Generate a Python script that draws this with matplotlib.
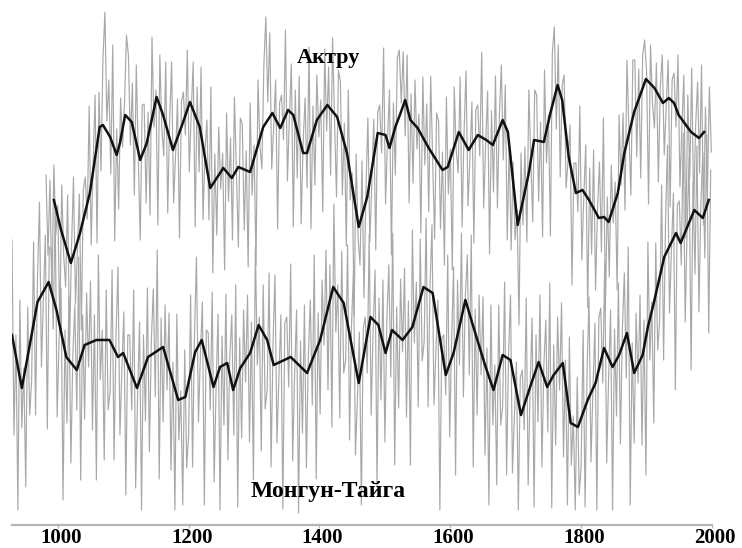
import numpy as np
import matplotlib
matplotlib.use("Agg")
import matplotlib.pyplot as plt
from matplotlib.transforms import ScaledTranslation

# ---- data (relative ring-width index, arbitrary units) ----
aktru_smooth_years = [994, 1005, 1020, 1034, 1049, 1064, 1069, 1080, 1090, 1095, 1103, 1113, 1126, 1136,
                      1151, 1161, 1176, 1190, 1202, 1217, 1233, 1253, 1266, 1276, 1294, 1314, 1328, 1340,
                      1352, 1360, 1375, 1381, 1396, 1412, 1427, 1442, 1460, 1473, 1489, 1501, 1507, 1516,
                      1524, 1531, 1539, 1550, 1567, 1588, 1596, 1613, 1628, 1642, 1655, 1665, 1680, 1688,
                      1703, 1720, 1728, 1743, 1753, 1764, 1771, 1781, 1792, 1802, 1812, 1827, 1835, 1842,
                      1856, 1866, 1881, 1899, 1912, 1925, 1934, 1942, 1949, 1968, 1980, 1988]
aktru_smooth = [325, 295, 262, 292, 332, 398, 400, 388, 370, 382, 410, 403, 365, 382,
                428, 410, 375, 400, 423, 398, 337, 357, 347, 358, 353, 398, 412, 397,
                415, 410, 372, 372, 405, 420, 408, 372, 298, 328, 392, 390, 377, 398,
                412, 425, 405, 397, 377, 355, 358, 393, 375, 390, 385, 380, 405, 393,
                300, 352, 385, 383, 412, 440, 425, 368, 332, 335, 325, 307, 308, 303,
                332, 372, 413, 446, 437, 422, 427, 422, 410, 393, 387, 393]

mongun_smooth_years = [930, 945, 953, 969, 986, 998, 1013, 1029, 1041, 1059, 1079, 1092, 1100, 1121,
                       1138, 1161, 1184, 1195, 1210, 1220, 1238, 1248, 1259, 1268, 1279, 1294, 1307,
                       1320, 1330, 1356, 1381, 1401, 1421, 1437, 1460, 1478, 1490, 1501, 1511, 1527,
                       1542, 1559, 1573, 1593, 1605, 1623, 1639, 1654, 1666, 1680, 1692, 1708, 1723,
                       1735, 1748, 1758, 1772, 1784, 1795, 1810, 1822, 1835, 1848, 1858, 1870, 1881,
                       1894, 1902, 1911, 1927, 1945, 1952, 1973, 1986, 1995]
mongun_smooth = [190, 137, 165, 223, 243, 215, 168, 155, 180, 185, 185, 168, 172, 137,
                 168, 178, 125, 128, 173, 185, 138, 158, 162, 135, 157, 172, 200,
                 185, 160, 168, 152, 185, 238, 222, 142, 208, 200, 172, 195, 185,
                 198, 238, 232, 150, 172, 225, 190, 158, 135, 170, 165, 110, 140,
                 163, 138, 150, 162, 102, 98, 125, 142, 177, 158, 170, 192, 152,
                 170, 198, 222, 268, 292, 282, 315, 307, 325]

aktru_years = list(range(982, 2000, 3))
aktru_annual = [
    350, 270, 345, 230, 360, 290, 320, 195, 340, 270,
    238, 330, 180, 277, 348, 221, 274, 331, 195, 335,
    348, 306, 419, 280, 361, 430, 282, 433, 354, 465,
    513, 404, 445, 351, 480, 284, 396, 316, 427, 378,
    423, 490, 469, 380, 442, 330, 460, 369, 285, 420,
    421, 322, 413, 310, 488, 398, 435, 300, 470, 397,
    369, 463, 312, 405, 463, 322, 370, 426, 287, 423,
    433, 390, 475, 353, 413, 463, 298, 438, 353, 458,
    305, 375, 405, 305, 438, 252, 371, 290, 398, 336,
    372, 255, 412, 324, 387, 285, 428, 351, 278, 407,
    401, 295, 374, 258, 422, 330, 380, 260, 445, 379,
    356, 460, 508, 423, 492, 356, 398, 445, 296, 422,
    430, 385, 495, 344, 408, 461, 298, 435, 347, 449,
    301, 382, 427, 337, 478, 296, 419, 340, 450, 388,
    425, 313, 476, 394, 458, 350, 487, 405, 328, 455,
    443, 330, 402, 279, 435, 325, 352, 210, 371, 287,
    260, 364, 227, 335, 407, 283, 342, 406, 275, 413,
    420, 372, 477, 321, 385, 435, 270, 422, 350, 467,
    475, 422, 473, 389, 470, 322, 431, 342, 445, 376,
    411, 292, 448, 360, 421, 313, 449, 365, 286, 412,
    404, 296, 373, 260, 428, 331, 376, 255, 438, 375,
    352, 448, 298, 393, 454, 319, 368, 423, 282, 415,
    420, 369, 473, 317, 381, 434, 271, 414, 333, 449,
    317, 410, 460, 365, 440, 285, 380, 275, 363, 285,
    315, 200, 372, 300, 378, 283, 435, 367, 303, 435,
    430, 324, 403, 288, 455, 362, 410, 289, 473, 498,
    396, 480, 348, 440, 450, 337, 365, 400, 240, 362,
    362, 313, 419, 265, 328, 380, 217, 357, 271, 375,
    235, 317, 363, 273, 407, 215, 328, 248, 360, 302,
    343, 235, 410, 340, 412, 315, 465, 395, 330, 465,
    465, 368, 456, 347, 470, 485, 453, 321, 480, 422,
    397, 462, 343, 439, 470, 370, 417, 465, 318, 445,
    452, 398, 470, 338, 399, 450, 287, 430, 348, 457,
    316, 399, 443, 352, 460, 300, 418, 333, 438, 373]

mongun_years = list(range(930, 2000, 3))
mongun_annual = [
    285, 90, 190, 15, 225, 97, 157, 38, 218, 110,
    144, 283, 110, 248, 323, 158, 228, 290, 96, 278,
    275, 196, 313, 108, 185, 237, 25, 195, 102, 229,
    62, 170, 220, 115, 268, 45, 210, 106, 232, 158,
    244, 95, 210, 45, 270, 145, 195, 65, 235, 115,
    134, 255, 65, 190, 258, 90, 157, 213, 30, 190,
    190, 115, 235, 37, 130, 203, 15, 190, 104, 237,
    73, 185, 236, 128, 275, 46, 207, 103, 220, 135,
    212, 55, 163, 15, 211, 85, 134, 20, 175, 57,
    90, 230, 58, 193, 268, 103, 170, 223, 20, 195,
    192, 115, 233, 43, 140, 211, 15, 189, 100, 231,
    65, 170, 210, 90, 240, 18, 187, 87, 215, 143,
    230, 83, 203, 45, 278, 160, 208, 74, 240, 116,
    135, 252, 58, 180, 250, 82, 149, 210, 16, 202,
    208, 138, 261, 64, 152, 215, 12, 184, 92, 220,
    57, 170, 225, 120, 270, 46, 212, 111, 245, 180,
    275, 135, 260, 98, 321, 193, 240, 107, 274, 152,
    165, 280, 85, 200, 255, 70, 127, 193, 20, 197,
    208, 152, 291, 110, 195, 255, 38, 227, 125, 245,
    83, 205, 260, 148, 292, 60, 218, 117, 246, 173,
    257, 108, 224, 60, 295, 182, 243, 118, 286, 164,
    183, 307, 118, 240, 300, 120, 175, 225, 15, 187,
    190, 130, 270, 88, 185, 258, 50, 245, 160, 292,
    128, 230, 270, 150, 290, 58, 216, 110, 230, 150,
    228, 70, 177, 20, 220, 100, 160, 40, 220, 100,
    119, 243, 50, 170, 230, 52, 110, 163, 15, 147,
    155, 95, 227, 40, 138, 207, 18, 190, 103, 230,
    58, 160, 205, 93, 242, 17, 180, 80, 208, 135,
    222, 68, 165, 20, 188, 60, 109, 15, 148, 30,
    60, 195, 18, 153, 228, 63, 135, 202, 15, 207,
    217, 142, 262, 62, 148, 215, 15, 196, 109, 242,
    81, 196, 252, 147, 278, 20, 182, 82, 212, 142,
    230, 80, 205, 50, 283, 165, 223, 102, 282, 175,
    205, 340, 165, 305, 380, 212, 275, 332, 135, 320,
    324, 260, 392, 203, 298, 368, 155, 343, 251, 379,
    213, 322, 372, 267, 390, 192, 355]

tick_years = [1000, 1200, 1400, 1600, 1800, 2000]
label_top = "Актру"
label_bottom = "Монгун-Тайга"

# ---- figure ----
fig = plt.figure(figsize=(7.42, 5.48), dpi=100)
ax = fig.add_axes([12 / 742, 23 / 548, 700 / 742, 525 / 548])

gray = "#a8a8a8"
ax.plot(aktru_years, aktru_annual, color=gray, lw=0.85, zorder=1)
ax.plot(mongun_years, mongun_annual, color=gray, lw=0.85, zorder=1)
ax.plot(aktru_smooth_years, aktru_smooth, color="#111111", lw=1.8, zorder=3)
ax.plot(mongun_smooth_years, mongun_smooth, color="#111111", lw=1.8, zorder=3)

ax.set_xlim(930, 2000)
ax.set_ylim(0, 525)
ax.set_yticks([])
for s in ["left", "right", "top"]:
    ax.spines[s].set_visible(False)
ax.spines["bottom"].set_color("#b5b5b5")
ax.spines["bottom"].set_linewidth(1.6)
ax.set_xticks(tick_years)
ax.set_xticklabels([str(t) for t in tick_years], fontfamily="Liberation Serif",
                   fontweight="bold", fontsize=15)
ax.tick_params(axis="x", length=2, color="#b5b5b5", pad=0.5)
shift = ScaledTranslation(3 / 100, 0, fig.dpi_scale_trans)
for lab in ax.get_xticklabels():
    lab.set_transform(lab.get_transform() + shift)

ax.text(1413, 467, label_top, ha="center", va="center", fontfamily="Liberation Serif",
        fontweight="bold", fontsize=16, zorder=5)
ax.text(1413, 34, label_bottom, ha="center", va="center", fontfamily="Liberation Serif",
        fontweight="bold", fontsize=17, zorder=5)

fig.savefig("out.png", dpi=100)
